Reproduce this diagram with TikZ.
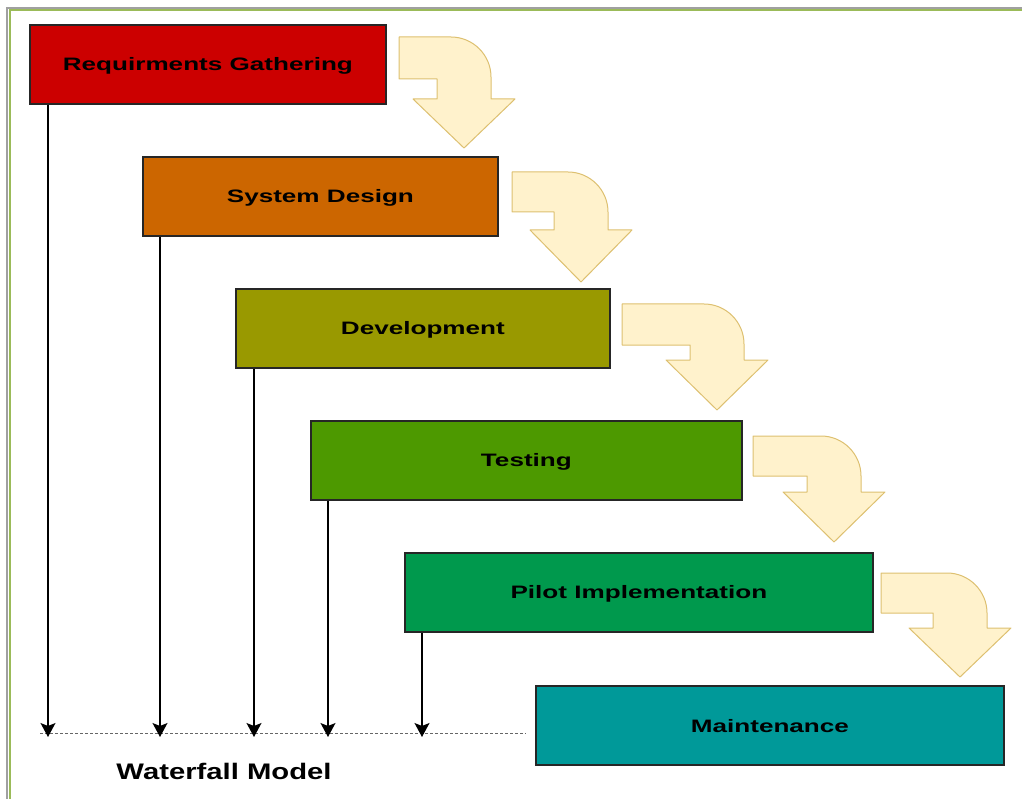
\documentclass[tikz,border=0pt]{standalone}
\usepackage{fontspec}
\usepackage{graphicx}
\setmainfont{Liberation Sans}
\usetikzlibrary{arrows.meta}
\definecolor{cReq}{HTML}{CC0000}
\definecolor{cSys}{HTML}{CC6600}
\definecolor{cDev}{HTML}{999900}
\definecolor{cTest}{HTML}{4D9900}
\definecolor{cPilot}{HTML}{00994D}
\definecolor{cMaint}{HTML}{009999}
\definecolor{arrFill}{HTML}{FFF2CC}
\definecolor{arrLine}{HTML}{DDC070}
\definecolor{frameGray}{HTML}{A0A0A0}
\definecolor{frameGreen}{HTML}{9BBB59}
\newcommand{\boxtext}[1]{\scalebox{1.45}[1]{\fontsize{18}{21}\selectfont\bfseries #1}}
\newcommand{\bentarrow}[6]{%
  % #1 left, #2 top, #3 bar bottom, #4 stem centre x, #5 head base y, #6 tip y
  \draw[bent] (#1,#2) -- ({#4+27-40},#2)
    .. controls ({#4+27-40+22},#2) and ({#4+27},{#2+40-22}) .. ({#4+27},{#2+40})
    -- ({#4+27},#5) -- ({#4+51},#5) -- (#4,#6) -- ({#4-51},#5) -- ({#4-27},#5)
    -- ({#4-27},#3) -- (#1,#3) -- cycle;}
\begin{document}
\begin{tikzpicture}[x=1pt,y=-1pt,
  stage/.style={draw=black!85, line width=1.8pt, anchor=north west, minimum height=79pt, inner sep=0pt},
  vline/.style={draw=black, line width=1.3pt, -{Stealth[length=14pt,width=15pt,inset=3pt]}},
  dotline/.style={draw=black!60, line width=0.8pt, dash pattern=on 3pt off 2pt},
  bent/.style={fill=arrFill, draw=arrLine, line width=1pt, line join=round}]
\useasboundingbox (0,0) rectangle (1022,799);
% frame
\draw[frameGray, line width=2.2pt] (6.5,8.3) -- (1022,8.3);
\draw[frameGray, line width=2.2pt] (7.3,7.5) -- (7.3,799);
\draw[frameGreen, line width=1.6pt] (9,10.2) -- (1022,10.2);
\draw[frameGreen, line width=1.6pt] (9.8,10) -- (9.8,799);
% stages
\node[stage, fill=cReq,   minimum width=356pt] (req)   at (29,24)  {};
\node[stage, fill=cSys,   minimum width=355pt] (sys)   at (142,156) {};
\node[stage, fill=cDev,   minimum width=374pt] (dev)   at (235,288) {};
\node[stage, fill=cTest,  minimum width=431pt] (test)  at (310,420) {};
\node[stage, fill=cPilot, minimum width=468pt] (pilot) at (404,552) {};
\node[stage, fill=cMaint, minimum width=468pt] (maint) at (535,685) {};
\node at ([yshift=-1pt]req.center)   {\boxtext{Requirments Gathering}};
\node at ([yshift=-1pt]sys.center)   {\boxtext{System Design}};
\node at ([yshift=-1pt]dev.center)   {\boxtext{Development}};
\node at ([yshift=-1pt]test.center)  {\boxtext{Testing}};
\node at ([yshift=-1pt]pilot.center) {\boxtext{Pilot Implementation}};
\node at ([yshift=-1pt]maint.center) {\boxtext{Maintenance}};
% bent arrows
\bentarrow{399}{37}{79}{464}{99}{148}
\bentarrow{512}{172}{212}{581}{230}{282}
\bentarrow{622}{304}{345}{717}{360}{410}
\bentarrow{753}{436}{476}{834}{492}{542}
\bentarrow{881}{573}{613}{960}{628}{677}
% baseline
\coordinate (d0) at (40,733);
\coordinate (d1) at (526,733);
\draw[dotline] (d0) -- (d1);
\coordinate (e1) at (48,737);
\coordinate (e2) at (160,737);
\coordinate (e3) at (254,737);
\coordinate (e4) at (328,737);
\coordinate (e5) at (422,737);
\draw[vline] (req.south -| e1) -- (e1);
\draw[vline] (sys.south -| e2) -- (e2);
\draw[vline] (dev.south -| e3) -- (e3);
\draw[vline] (test.south -| e4) -- (e4);
\draw[vline] (pilot.south -| e5) -- (e5);
\node (title) at (224,771) {\scalebox{1.3}[1]{\fontsize{22.5}{26}\selectfont\bfseries Waterfall Model}};
\end{tikzpicture}
\end{document}
